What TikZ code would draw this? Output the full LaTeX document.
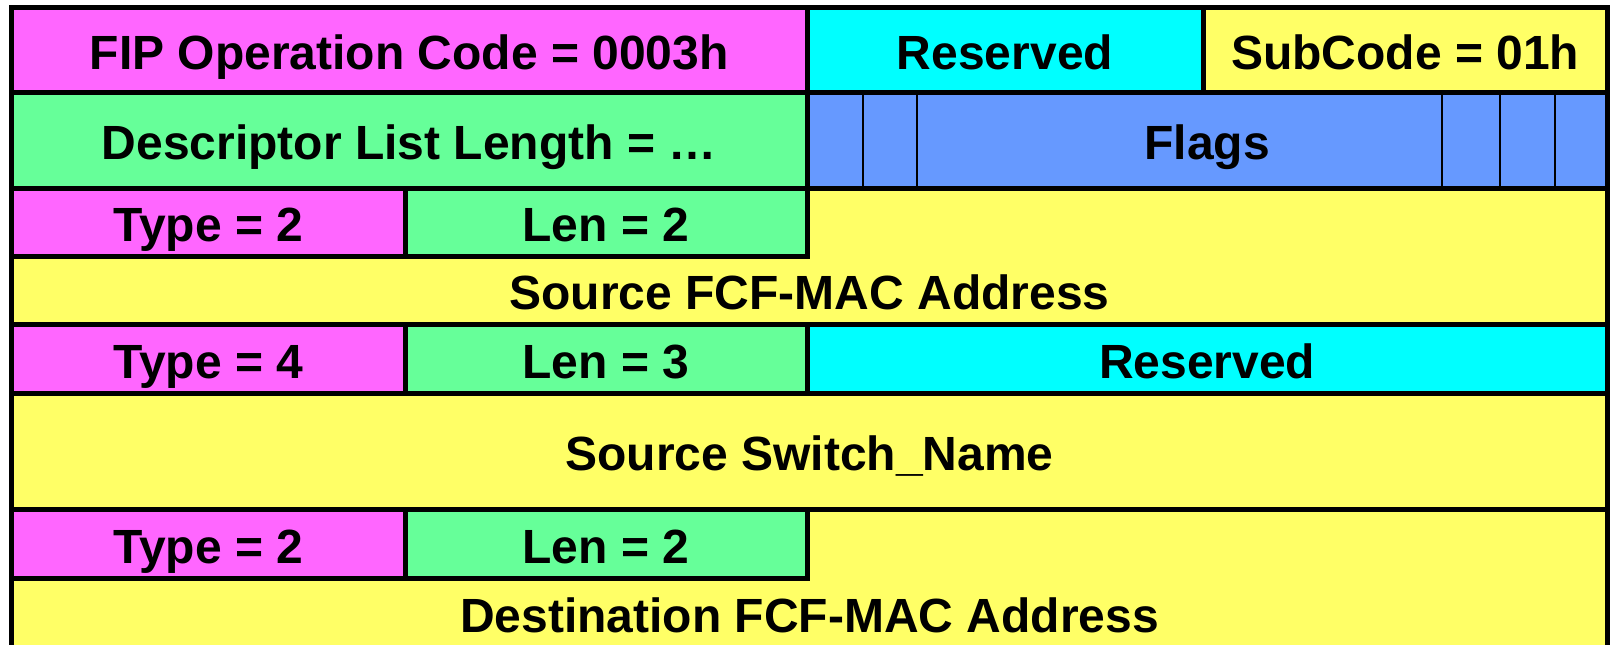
\documentclass[tikz,border=0pt]{standalone}
\usepackage{fontspec}
\setmainfont{Liberation Sans}
\definecolor{cmag}{HTML}{FF66FF}
\definecolor{ccyan}{HTML}{00FFFF}
\definecolor{cyel}{HTML}{FFFF66}
\definecolor{cgrn}{HTML}{66FF99}
\definecolor{cblue}{HTML}{6699FF}
\begin{document}
\begin{tikzpicture}[x=1pt,y=-1pt,
  cellbox/.style={inner sep=0pt, outer sep=0pt, draw=none, rectangle},
  txt/.style={inner sep=0pt, outer sep=0pt, font=\bfseries\fontsize{48}{51}\selectfont, text height=34.4pt, text depth=0pt, yshift=-2.5pt},
  bord/.style={draw=black, line width=5pt, line join=miter},
  flagdiv/.style={draw=black, line width=2.5pt}]
\useasboundingbox (0,0) rectangle (1610,645);
\clip (0,0) rectangle (1610,645);
\fill[white] (0,0) rectangle (1610,645);
% row 1
\node[cellbox, fill=cmag, minimum width=795.5pt, minimum height=85pt] (op) at (409.25,49.5) {};
\node[cellbox, fill=ccyan, minimum width=396pt, minimum height=85pt] (res1) at (1005,49.5) {};
\node[cellbox, fill=cyel, minimum width=404.5pt, minimum height=85pt] (sub) at (1405.25,49.5) {};
% row 2
\node[cellbox, fill=cgrn, minimum width=795.5pt, minimum height=96pt] (dll) at (409.25,140) {};
\node[cellbox, fill=cblue, minimum width=800.5pt, minimum height=96pt] (flags) at (1207.25,140) {};
% row 3-4
\node[cellbox, fill=cmag, minimum width=393.5pt, minimum height=68pt] (t1) at (208.25,222) {};
\node[cellbox, fill=cgrn, minimum width=402pt, minimum height=68pt] (l1) at (606,222) {};
\coordinate (s1) at (807,188);
\coordinate (s2) at (1607.5,188);
\coordinate (s3) at (1607.5,324);
\coordinate (s4) at (11.5,324);
\coordinate (s5) at (11.5,256);
\coordinate (s6) at (807,256);
\fill[cyel] (s1) -- (s2) -- (s3) -- (s4) -- (s5) -- (s6) -- cycle;
% row 5
\node[cellbox, fill=cmag, minimum width=393.5pt, minimum height=69pt] (t4) at (208.25,358.5) {};
\node[cellbox, fill=cgrn, minimum width=402pt, minimum height=69pt] (l4) at (606,358.5) {};
\node[cellbox, fill=ccyan, minimum width=800.5pt, minimum height=69pt] (res2) at (1207.25,358.5) {};
% row 6
\node[cellbox, fill=cyel, minimum width=1596pt, minimum height=116pt] (ssn) at (809.5,451) {};
% row 7-8
\node[cellbox, fill=cmag, minimum width=393.5pt, minimum height=69pt] (t7) at (208.25,543.5) {};
\node[cellbox, fill=cgrn, minimum width=402pt, minimum height=69pt] (l7) at (606,543.5) {};
\coordinate (d1) at (807,509);
\coordinate (d2) at (1607.5,509);
\coordinate (d3) at (1607.5,647);
\coordinate (d4) at (11.5,647);
\coordinate (d5) at (11.5,578);
\coordinate (d6) at (807,578);
\fill[cyel] (d1) -- (d2) -- (d3) -- (d4) -- (d5) -- (d6) -- cycle;
% flag dividers
\foreach \fx in {863,917,1442,1500,1555}
  \draw[flagdiv] (\fx,92) -- (\fx,188);
% borders
\foreach \c in {op,res1,sub,dll,flags,t1,l1,t4,l4,res2,ssn,t7,l7}
  \draw[bord] (\c.north west) rectangle (\c.south east);
\draw[bord] (s1) -- (s2) -- (s3) -- (s4) -- (s5) -- (s6) -- cycle;
\draw[bord] (d1) -- (d2) -- (d3) -- (d4) -- (d5) -- (d6) -- cycle;
% texts
\node[txt] (op-t) at (op) {FIP Operation Code = 0003h};
\node[txt] (res1-t) at (res1) {Reserved};
\node[txt] (sub-t) at (sub) {SubCode = 01h};
\node[txt] (dll-t) at (dll) {Descriptor List Length = …};
\node[txt] (flags-t) at (flags) {Flags};
\node[txt] (t1-t) at (t1) {Type = 2};
\node[txt] (l1-t) at (l1) {Len = 2};
\node[txt] (src-t) at (809.5,290) {Source FCF-MAC Address};
\node[txt] (t4-t) at (t4) {Type = 4};
\node[txt] (l4-t) at (l4) {Len = 3};
\node[txt] (res2-t) at (res2) {Reserved};
\node[txt] (ssn-t) at (ssn) {Source Switch\_Name};
\node[txt] (t7-t) at (t7) {Type = 2};
\node[txt] (l7-t) at (l7) {Len = 2};
\node[txt] (dst-t) at (809.5,612.5) {Destination FCF-MAC Address};
\end{tikzpicture}
\end{document}
